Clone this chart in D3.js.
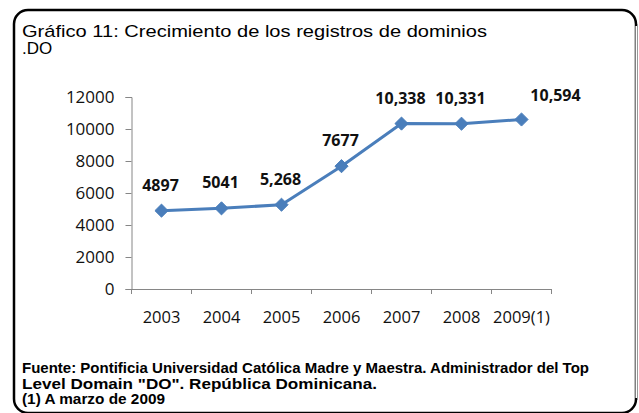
<!DOCTYPE html>
<html><head><meta charset="utf-8">
<script src="https://cdn.jsdelivr.net/npm/d3@7/dist/d3.min.js"></script>
<style>body{margin:0;background:#fff}svg{display:block}</style>
</head><body>
<script>
const categories = ["2003","2004","2005","2006","2007","2008","2009(1)"];
const values = [4897, 5041, 5268, 7677, 10338, 10331, 10594];
const valueLabels = ["4897","5041","5,268","7677","10,338","10,331","10,594"];
const yTicks = [0,2000,4000,6000,8000,10000,12000];
const titleLines = ["Gráfico 11: Crecimiento de los registros de dominios", ".DO"];
const footerLines = ["Fuente: Pontificia Universidad Católica Madre y Maestra. Administrador del Top",
  "Level Domain \"DO\". República Dominicana.", "(1) A marzo de 2009"];

const W = 639, H = 413;
const svg = d3.select("body").append("svg").attr("width", W).attr("height", H);

// frame
svg.append("rect").attr("x",14).attr("y",10).attr("width",622).attr("height",403)
  .attr("rx",14).attr("fill","#fff").attr("stroke","#000").attr("stroke-width",2.5);
svg.append("line").attr("x1",637).attr("x2",637).attr("y1",26).attr("y2",398)
  .attr("stroke","#fff").attr("stroke-width",3);
svg.append("line").attr("x1",637.5).attr("x2",637.5).attr("y1",24).attr("y2",400)
  .attr("stroke","#999").attr("stroke-width",1);

// title
const titleW = [465, null];
svg.append("g").selectAll("text").data(titleLines).join("text")
  .attr("x",22).attr("y",(d,i)=>36.5+i*17.5)
  .attr("font-family","Liberation Sans, Arial, sans-serif").attr("font-size",17)
  .attr("fill","#000").each(function(d,i){ if(titleW[i]) d3.select(this).attr("textLength",titleW[i]).attr("lengthAdjust","spacingAndGlyphs"); })
  .text(d=>d);

// footer
const footW = [567, 355, 143];
svg.append("g").selectAll("text").data(footerLines).join("text")
  .attr("x",22).attr("y",(d,i)=>373+i*15.5)
  .attr("font-family","Liberation Sans, Arial, sans-serif").attr("font-size",14)
  .attr("font-weight","bold").attr("fill","#000")
  .attr("textLength",(d,i)=>footW[i]).attr("lengthAdjust","spacingAndGlyphs")
  .text(d=>d);

const x = d3.scaleBand().domain(categories).range([131.5, 551.5]);
const y = d3.scaleLinear().domain([0,12000]).range([289, 97]);
const axisColor = "#868686";

const yAxis = svg.append("g").attr("transform","translate(131.5,0)")
  .call(d3.axisLeft(y).tickValues(yTicks).tickSize(6).tickPadding(11).tickFormat(d3.format("d")));
yAxis.select(".domain").attr("stroke",axisColor);
yAxis.selectAll(".tick line").attr("stroke",axisColor);
yAxis.selectAll("text").attr("font-family","Open Sans, sans-serif").attr("font-size",17).attr("fill","#111");

const xAxis = svg.append("g").attr("transform","translate(0,289)")
  .call(d3.axisBottom(x).tickSize(0).tickPadding(22).tickSizeOuter(0));
xAxis.select(".domain").attr("stroke",axisColor);
xAxis.selectAll("text").attr("font-family","Open Sans, sans-serif").attr("font-size",16.5).attr("fill","#111");
const bounds = categories.map(c=>x(c)).concat([x.range()[1]]);
xAxis.selectAll(".bnd").data(bounds).join("line").attr("class","bnd")
  .attr("x1",d=>d).attr("x2",d=>d).attr("y1",0).attr("y2",5).attr("stroke",axisColor);

const cx = c => x(c) + x.bandwidth()/2;
const pts = categories.map((c,i)=>[cx(c), y(values[i])]);
svg.append("path").attr("d", d3.line()(pts)).attr("fill","none")
  .attr("stroke","#4A7EBB").attr("stroke-width",3).attr("stroke-linejoin","round");
svg.append("g").selectAll("path").data(pts).join("path")
  .attr("transform",d=>`translate(${d[0]},${d[1]})`)
  .attr("d", d3.symbol().type(d3.symbolDiamond2).size(110)())
  .attr("fill","#4A7EBB").attr("stroke","#4A7EBB").attr("stroke-width",1);

const lastDx = 35;
svg.append("g").selectAll("text").data(valueLabels).join("text")
  .attr("x",(d,i)=>pts[i][0] - 1 + (i===valueLabels.length-1 ? lastDx : 0))
  .attr("y",(d,i)=>pts[i][1] - (i===valueLabels.length-1 ? 18 : 20))
  .attr("text-anchor","middle")
  .attr("font-family","Open Sans, sans-serif").attr("font-weight","bold").attr("font-size",16)
  .attr("fill","#111").text(d=>d);
</script>
</body></html>
